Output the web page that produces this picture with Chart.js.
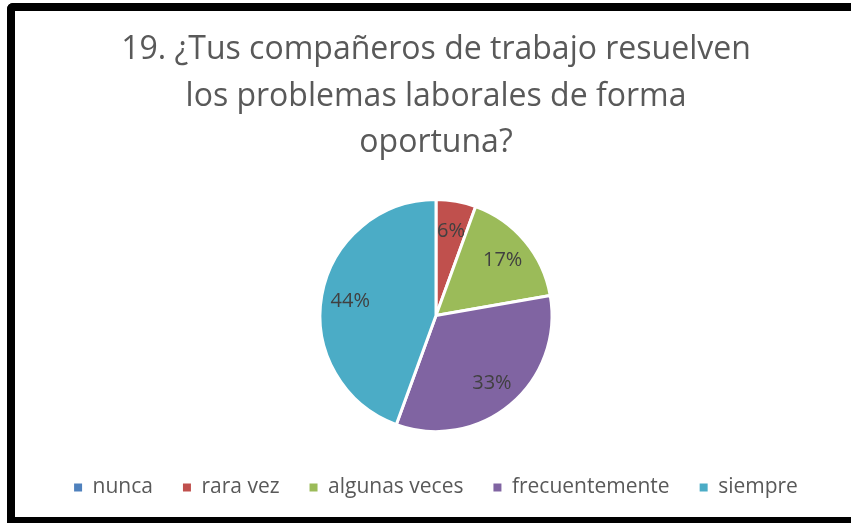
<!DOCTYPE html>
<html>
<head>
<meta charset="utf-8">
<script src="https://cdn.jsdelivr.net/npm/chart.js@4/dist/chart.umd.min.js"></script>
<style>
  body { margin: 0; background: #fff; }
  #frame {
    position: absolute; left: 7px; top: 3px; width: 860px; height: 506px;
    border-top: 8px solid #000; border-left: 8px solid #000; border-bottom: 6px solid #000;
    border-top-left-radius: 6px; background: #fff;
  }
  #wrap { position: absolute; left: 0; top: 0; width: 836px; height: 497px; }
</style>
</head>
<body>
<div id="frame"><div id="wrap"><canvas id="pie"></canvas></div></div>
<script>
var titleLines = ["19. ¿Tus compañeros de trabajo resuelven", "los problemas laborales de forma", "oportuna?"];
var categories = ["nunca", "rara vez", "algunas veces", "frecuentemente", "siempre"];
var answers = [0, 1, 3, 6, 8];
var sliceColors = ["#4F81BD", "#C0504D", "#9BBB59", "#8064A2", "#4BACC6"];

var fontName = "'Open Sans', Lato, sans-serif";

// percent labels drawn inside each slice
var percentLabels = {
  id: 'percentLabels',
  afterDatasetsDraw: function(chart) {
    var ctx = chart.ctx;
    var meta = chart.getDatasetMeta(0);
    var data = chart.data.datasets[0].data;
    var total = data.reduce(function(a, b) { return a + b; }, 0);
    ctx.save();
    ctx.font = "20px " + fontName;
    ctx.fillStyle = "#404040";
    ctx.textAlign = "center";
    ctx.textBaseline = "middle";
    meta.data.forEach(function(arc, i) {
      if (!data[i]) return;
      var mid = (arc.startAngle + arc.endAngle) / 2;
      var r = arc.outerRadius * 0.75;
      var txt = Math.round(data[i] / total * 100) + "%";
      ctx.fillText(txt, arc.x + Math.cos(mid) * r, arc.y + 1 + Math.sin(mid) * r);
    });
    ctx.restore();
  }
};

var ctx1 = document.getElementById('pie').getContext('2d');
var chart = new Chart(ctx1, {
  type: 'pie',
  data: {
    labels: categories,
    datasets: [{
      data: answers,
      backgroundColor: sliceColors,
      borderColor: "#ffffff",
      borderWidth: 3,
      radius: 116
    }]
  },
  options: {
    responsive: true,
    maintainAspectRatio: false,
    animation: false,
    layout: { padding: { left: 6, bottom: 0 } },
    plugins: {
      title: {
        display: true,
        text: titleLines,
        color: "#595959",
        font: { family: fontName, size: 32, weight: 'normal', lineHeight: 1.45 },
        padding: { top: 16, bottom: 18 }
      },
      legend: {
        position: 'bottom',
        labels: {
          color: "#595959",
          font: { family: fontName, size: 21 },
          boxWidth: 8,
          boxHeight: 8,
          padding: 30,
          // no white outline on the legend squares
          generateLabels: function(chart) {
            var items = Chart.overrides.pie.plugins.legend.labels.generateLabels(chart);
            items.forEach(function(it) { it.lineWidth = 0; });
            return items;
          }
        }
      },
      tooltip: { enabled: false }
    }
  },
  plugins: [percentLabels]
});
</script>
</body>
</html>
